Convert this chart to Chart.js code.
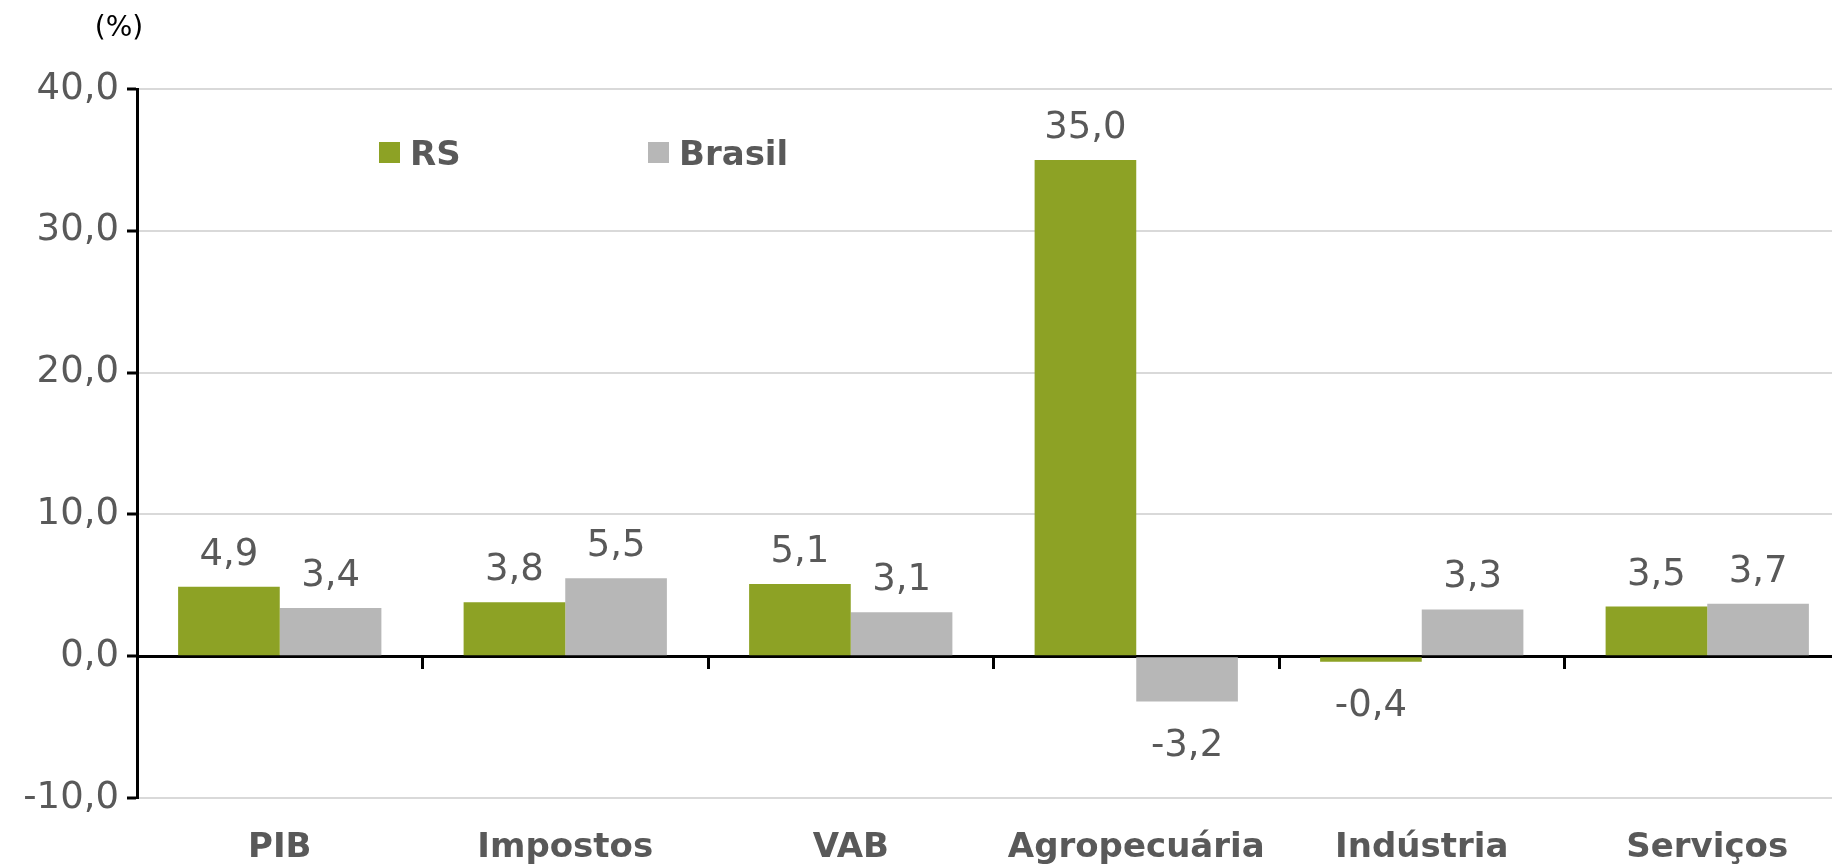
<!DOCTYPE html>
<html>
<head>
<meta charset="utf-8">
<script src="https://cdn.jsdelivr.net/npm/chart.js@4/dist/chart.umd.min.js"></script>
<style>
  html, body { margin: 0; padding: 0; background: #fff; overflow: hidden; }
  #wrap { width: 1851px; height: 866px; }
</style>
</head>
<body>
<div id="wrap"><canvas id="chart"></canvas></div>
<script>
// dados
const categories = ['PIB', 'Impostos', 'VAB', 'Agropecuária', 'Indústria', 'Serviços'];
const rsValues = [4.9, 3.8, 5.1, 35.0, -0.4, 3.5];
const brasilValues = [3.4, 5.5, 3.1, -3.2, 3.3, 3.7];
const yTicks = [-10, 0, 10, 20, 30, 40];

const green = '#8da225';
const gray = '#b7b7b7';
const textColor = '#595959';
const fontName = 'DejaVu Sans';

function fmt(v){
    return v.toFixed(1).replace('.', ',');
}

// rotulos de valor nas barras
const valueLabels = {
    id: 'valueLabels',
    afterDatasetsDraw(chart){
        let ctx = chart.ctx;
        ctx.save();
        ctx.font = '37px "' + fontName + '"';
        ctx.fillStyle = textColor;
        ctx.textAlign = 'center';
        ctx.textBaseline = 'alphabetic';
        chart.data.datasets.forEach((ds, i) => {
            let meta = chart.getDatasetMeta(i);
            meta.data.forEach((bar, j) => {
                let v = ds.data[j];
                let y = v >= 0 ? bar.y - 22 : bar.y + 54;
                ctx.fillText(fmt(v), bar.x, y);
            });
        });
        ctx.restore();
    }
};

// legenda e unidade
const extras = {
    id: 'extras',
    afterDraw(chart){
        let ctx = chart.ctx;
        ctx.save();
        ctx.font = '28px "' + fontName + '"';
        ctx.fillStyle = '#000';
        ctx.textAlign = 'center';
        ctx.textBaseline = 'middle';
        ctx.fillText('(%)', 119, 29);

        let pos = [379, 648];
        ctx.font = 'bold 34px "' + fontName + '"';
        ctx.textAlign = 'left';
        ctx.textBaseline = 'alphabetic';
        chart.data.datasets.forEach((ds, i) => {
            ctx.fillStyle = ds.backgroundColor;
            ctx.fillRect(pos[i], 142, 21, 21);
            ctx.fillStyle = textColor;
            ctx.fillText(ds.label, pos[i] + 31, 165);
        });
        ctx.restore();
    }
};

let config = {
    type: 'bar',
    data: {
        labels: categories,
        datasets: [
            { label: 'RS', data: rsValues, backgroundColor: green },
            { label: 'Brasil', data: brasilValues, backgroundColor: gray }
        ]
    },
    options: {
        responsive: true,
        maintainAspectRatio: false,
        animation: false,
        datasets: {
            bar: { barPercentage: 1, categoryPercentage: 0.712 }
        },
        layout: { padding: { top: 89, right: 1, left: 0, bottom: 0 } },
        plugins: {
            legend: { display: false },
            tooltip: { enabled: false }
        },
        scales: {
            x: {
                grid: { display: false },
                border: { display: false },
                ticks: {
                    color: textColor,
                    padding: 22,
                    maxRotation: 0,
                    font: { family: fontName, size: 34, weight: 'bold' }
                },
                afterFit: (s) => { s.height = 68; }
            },
            x2: {
                type: 'category',
                position: { y: 0 },
                z: 1,
                grid: {
                    offset: true,
                    drawOnChartArea: false,
                    tickLength: 11,
                    tickColor: '#000',
                    tickWidth: 3
                },
                border: { color: '#000', width: 3 },
                ticks: { display: false },
                afterFit: (s) => { s.height = 0; }
            },
            y: {
                min: -10,
                max: 40,
                afterBuildTicks: (s) => { s.ticks = yTicks.map(v => ({ value: v })); },
                grid: {
                    color: '#d9d9d9',
                    lineWidth: 2,
                    tickLength: 10,
                    tickColor: '#000',
                    tickWidth: 3
                },
                border: { color: '#000', width: 3 },
                ticks: {
                    color: textColor,
                    padding: 8,
                    font: { family: fontName, size: 37 },
                    callback: (v) => fmt(v)
                },
                afterFit: (s) => { s.width = 137; }
            }
        }
    },
    plugins: [valueLabels, extras]
};

let chart = new Chart(document.getElementById('chart').getContext('2d'), config);
</script>
</body>
</html>
